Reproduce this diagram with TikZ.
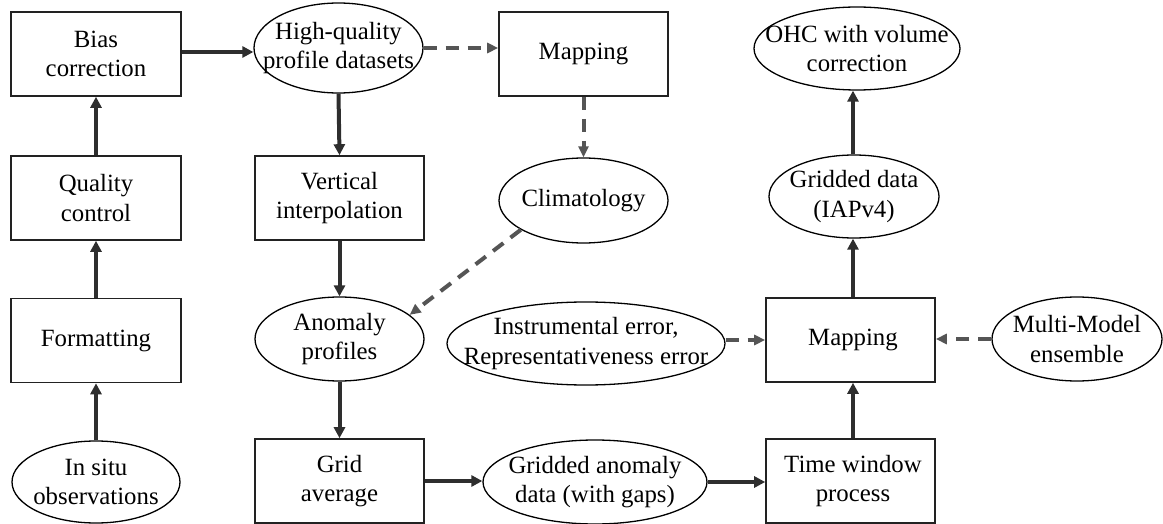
\documentclass[tikz,border=0pt]{standalone}
\usepackage{fontspec}
\setmainfont{Liberation Serif}
\usetikzlibrary{arrows.meta,shapes.geometric}
\definecolor{solidc}{HTML}{2E2E2E}
\definecolor{dashc}{HTML}{555555}
\definecolor{edgec}{HTML}{222222}
\begin{document}
\begin{tikzpicture}[x=1pt,y=-1pt,
  every node/.style={font=\fontsize{24.8}{29.5}\selectfont},
  boxnode/.style={draw=edgec, line width=1.6pt, rectangle, minimum width=169pt, minimum height=84pt, inner sep=2pt, align=center},
  oval/.style={draw=black, line width=1.3pt, ellipse, inner sep=0pt},
  txt/.style={align=center, inner sep=0pt},
  solidarrow/.style={draw=solidc, line width=4pt, -{Triangle[length=11pt,width=11pt]}},
  dasharrow/.style={draw=dashc, line width=4pt, dash pattern=on 13pt off 9pt, -{Triangle[length=11pt,width=10pt]}}
]
\useasboundingbox (0,0) rectangle (1163,524);
% column 1
\node[boxnode, minimum width=170pt] (bias) at (96,54) {Bias\\correction};
\node[boxnode, minimum width=170pt] (qc) at (96,198) {Quality\\control};
\node[boxnode, minimum width=170pt] (fmt) at (96,340.5) {Formatting};
\node[oval, minimum width=168pt, minimum height=82pt] (insitu) at (96,482) {};
\node[txt] (insitu-t) at (insitu) {In situ\\observations};
% column 2
\node[oval, minimum width=169pt, minimum height=90pt] (hq) at (338.5,48) {};
\node[txt] (hq-t) at (hq) {High-quality\\profile datasets};
\node[boxnode] (vint) at (339.5,198) {Vertical\\interpolation};
\node[oval, minimum width=169pt, minimum height=84pt] (anom) at (339.5,339) {};
\node[txt] (anom-t) at (anom) {Anomaly\\profiles};
\node[boxnode] (gavg) at (339.5,481) {Grid\\average};
% column 3
\node[boxnode] (mapa) at (583.5,54) {Mapping};
\node[oval, minimum width=169pt, minimum height=85pt] (clim) at (583.5,200.5) {};
\node[txt] (clim-t) at (clim) {Climatology};
\node[oval, minimum width=278pt, minimum height=83pt] (instr) at (586,343.5) {};
\node[txt] (instr-t) at (instr) {Instrumental error,\\Representativeness error};
\node[oval, minimum width=224pt, minimum height=84pt] (ganom) at (595,482) {};
\node[txt] (ganom-t) at (ganom) {Gridded anomaly\\data (with gaps)};
% column 4
\node[boxnode] (tw) at (850.5,481) {\hspace*{5pt}Time window\\\hspace*{5pt}process};
\node[boxnode] (mapb) at (850.5,340) {\hspace*{5pt}Mapping};
\node[oval, minimum width=170pt, minimum height=83pt] (gdata) at (854,196.5) {};
\node[txt] (gdata-t) at (gdata) {Gridded data\\(IAPv4)};
\node[oval, minimum width=206pt, minimum height=83pt] (ohc) at (857,48.5) {};
\node[txt] (ohc-t) at (ohc) {OHC with volume\\correction};
% column 5
\node[oval, minimum width=170pt, minimum height=84pt] (mm) at (1077,339) {};
\node[txt] (mm-t) at (mm) {Multi-Model\\ensemble};
% connectors
\coordinate (b1) at ([yshift=2pt]bias.east);
\draw[solidarrow] (b1) -- (b1 -| hq.west);
\draw[solidarrow] (hq.south) -- (vint.north);
\draw[dasharrow] (hq.east) -- (hq.east -| mapa.west);
\draw[dasharrow] (mapa.south) -- (clim.north);
\draw[solidarrow] (qc.north) -- (bias.south);
\draw[solidarrow] (fmt.north) -- (qc.south);
\draw[solidarrow] (insitu.north) -- (fmt.south);
\draw[solidarrow] (vint.south) -- (anom.north);
\draw[dasharrow] (clim.205) -- (anom.19);
\draw[solidarrow] (anom.south) -- (gavg.north);
\draw[solidarrow] (gavg.east) -- (gavg.east -| ganom.west);
\draw[solidarrow] (ganom.east) -- (ganom.east -| tw.west);
\coordinate (c1) at ([xshift=2.5pt]tw.north);
\draw[solidarrow] (c1) -- (c1 |- mapb.south);
\coordinate (c2) at ([xshift=2.5pt]mapb.north);
\draw[solidarrow] (c2) -- (c2 |- gdata.south);
\draw[solidarrow] (gdata.north -| c2) -- (c2 |- ohc.south);
\draw[dasharrow] (mapb.west -| instr.east) -- (mapb.west);
\draw[dasharrow] (mm.west) -- (mm.west -| mapb.east);
\end{tikzpicture}
\end{document}
